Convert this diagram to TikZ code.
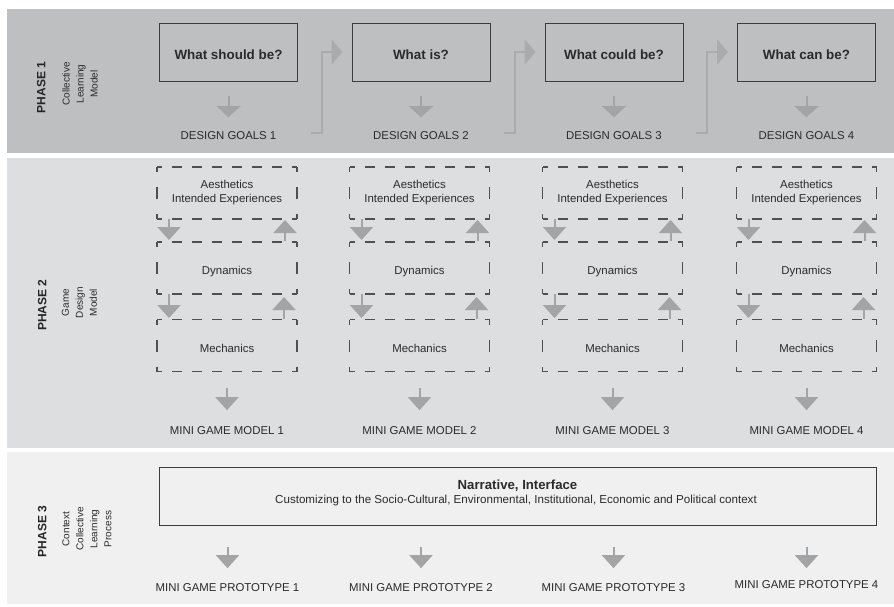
\documentclass[tikz,border=0pt]{standalone}
\usepackage{fontspec}
\setmainfont{Liberation Sans}
\usetikzlibrary{arrows.meta,calc}
\definecolor{pone}{HTML}{BEBFC1}
\definecolor{ptwo}{HTML}{DDDEE0}
\definecolor{pthree}{HTML}{F0F0F0}
\definecolor{agray}{HTML}{A3A4A6}
\definecolor{cgray}{HTML}{AAABAD}
\definecolor{txt}{HTML}{2B2B2B}
\definecolor{dgray}{HTML}{505050}
\definecolor{boxline}{HTML}{3C3C3C}
\newcommand\dashframe[1]{%
  \draw[hd] (#1.north west) -- (#1.north east);
  \draw[hd] (#1.south west) -- (#1.south east);
  \draw[vd] (#1.north west) -- (#1.south west);
  \draw[vd] (#1.north east) -- (#1.south east);}
\tikzset{
  panel/.style={draw=none, inner sep=0pt, outer sep=0pt, anchor=north west},
  qbox/.style={draw=boxline, line width=1pt, minimum width=138pt, minimum height=58pt,
    inner sep=0pt, font=\fontsize{13.4}{16}\selectfont\bfseries, text height=15pt,
    text depth=0.4pt, text=txt},
  caplabel/.style={font=\fontsize{11.4}{14}\selectfont, text=txt, inner sep=0pt, anchor=base},
  dbox/.style={minimum width=140pt, minimum height=52pt, inner sep=0pt, outer sep=0pt,
    font=\fontsize{11.4}{14}\selectfont, text=txt, align=center},
  oneline/.style={text height=14pt, text depth=0.5pt},
  hd/.style={draw=dgray, line width=1.1pt, dash pattern=on 10pt off 10pt, dash phase=5pt},
  vd/.style={draw=dgray, line width=1.1pt,
    dash pattern=on 5pt off 15pt on 12pt off 15pt on 5pt off 10pt},
  dar/.style={draw=agray, line width=2pt, -{Triangle[length=11pt,width=24pt]}},
  darr/.style={draw=agray, line width=2pt, -{Triangle[length=13pt,width=23pt]}},
  conn/.style={draw=cgray, line width=2pt, -{Triangle[length=11pt,width=25pt]}, shorten >=9pt},
  phaselab/.style={rotate=90, font=\fontsize{12}{14}\selectfont\bfseries, text=black!85,
    text height=8.6pt, text depth=0pt, inner sep=0pt},
  sublab/.style={rotate=90, align=center, font=\fontsize{10}{14}\selectfont, text=txt, inner sep=0pt}
}
\begin{document}
\begin{tikzpicture}[x=1pt,y=-1pt]
\useasboundingbox (0,0) rectangle (894,606);
\fill[white] (0,0) rectangle (894,606);
% panels
\node[panel, fill=pone, minimum width=887pt, minimum height=144pt] (ph1) at (7,9) {};
\node[panel, fill=ptwo, minimum width=887pt, minimum height=290pt] (ph2) at (7,157.5) {};
\node[panel, fill=pthree, minimum width=887pt, minimum height=152pt] (ph3) at (7,452) {};
% phase labels
\node[phaselab] (l1) at (41,87.5) {PHASE 1};
\node[sublab] (s1) at (80,84) {Collective\\Learning\\Model};
\node[phaselab] (l2) at (42,305) {PHASE 2};
\node[sublab] (s2) at (79.5,302.5) {Game\\Design\\Model};
\node[phaselab] (l3) at (42,531.5) {PHASE 3};
\node[sublab] (s3) at (87,529) {Context\\Collective\\Learning\\Process};
% phase 1
\foreach \i/\cx/\q in {1/228.5/What should be?, 2/421/What is?, 3/614/What could be?, 4/806.5/What can be?}{
  \node[qbox] (b\i) at (\cx,52) {\q};
  \node[caplabel] (g\i) at (\cx,139) {DESIGN GOALS \i};
  \draw[dar, shorten <=14.5pt, shorten >=13.7pt] (b\i.south) -- (g\i.north);
}
\foreach \i/\j in {1/2,2/3,3/4}{
  \coordinate (c\i) at ($(b\j.west)+(-41,80.5)$);
  \draw[conn] (c\i) -- ++(11,0) |- (b\j.west);
}
% phase 2
\foreach \i/\cx in {1/227, 2/419.5, 3/612.5, 4/806.5}{
  \node[dbox] (a\i) at (\cx,193) {Aesthetics\\Intended Experiences};
  \node[dbox, oneline] (d\i) at (\cx,268) {Dynamics};
  \node[dbox, oneline] (m\i) at (\cx,345.5) {Mechanics};
  \dashframe{a\i}
  \dashframe{d\i}
  \dashframe{m\i}
  \draw[darr, shorten >=2pt] ([xshift=12pt]a\i.south west) -- ([xshift=12pt]d\i.north west);
  \draw[darr, shorten <=1pt, shorten >=1pt] ([xshift=-12pt]d\i.north east) -- ([xshift=-12pt]a\i.south east);
  \draw[darr, shorten >=1.5pt] ([xshift=12pt]d\i.south west) -- ([xshift=12pt]m\i.north west);
  \draw[darr, shorten <=1pt, shorten >=3pt] ([xshift=-13pt]m\i.north east) -- ([xshift=-13pt]d\i.south east);
  \node[caplabel] (mm\i) at (\cx,434) {MINI GAME MODEL \i};
  \draw[darr, shorten <=16.5pt, shorten >=15.7pt] (m\i.south) -- (mm\i.north);
}
% phase 3
\node[draw=boxline, line width=1pt, minimum width=717pt, minimum height=58.4pt, inner sep=0pt] (P) at (517.5,496.5) {};
\node[anchor=base, inner sep=0pt, font=\fontsize{13.2}{16}\selectfont\bfseries, text=txt] (nt) at (517.5,489) {Narrative, Interface};
\node[anchor=base, inner sep=0pt, font=\fontsize{11.6}{14}\selectfont, text=txt] (nc) at (516,503.5) {Customizing to the Socio-Cultural, Environmental, Institutional, Economic and Political context};
\foreach \i/\cx/\by/\sh in {1/227.5/591/14.7, 2/421/591/14.7, 3/613.5/591/14.7, 4/806.5/588/11.7}{
  \node[caplabel] (pp\i) at (\cx,\by) {MINI GAME PROTOTYPE \i};
  \draw[darr, shorten <=21pt, shorten >=\sh pt] (P.south -| pp\i.north) -- (pp\i.north);
}
\end{tikzpicture}
\end{document}
